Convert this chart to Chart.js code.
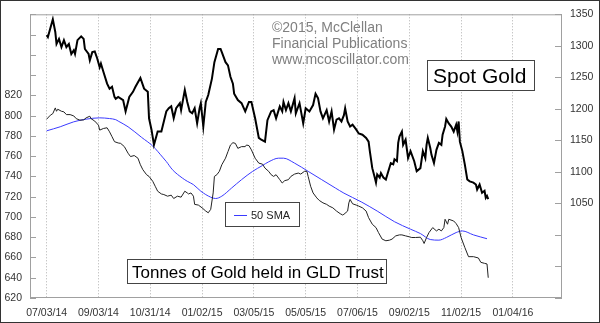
<!DOCTYPE html>
<html>
<head>
<meta charset="utf-8">
<script src="https://cdn.jsdelivr.net/npm/chart.js@4.4.0/dist/chart.umd.min.js"></script>
<style>
body { margin: 0; background: #fff; }
canvas { display: block; }
</style>
</head>
<body>
<canvas id="goldChart" width="600" height="323"></canvas>
<script>
// x = trading days counted from 07/03/14
var dateLabels = ['07/03/14', '09/03/14', '10/31/14', '01/02/15', '03/05/15', '05/05/15', '07/06/15', '09/02/15', '11/02/15', '01/04/16'];
var tickDays = [0, 42, 84, 126, 168, 210, 252, 294, 336, 378];
var tonnesTicks = [620, 640, 660, 680, 700, 720, 740, 760, 780, 800, 820, 840, 860, 880, 900];
var goldTicks = [900, 950, 1000, 1050, 1100, 1150, 1200, 1250, 1300, 1350];

// spot gold, $/oz  [day, value]
var goldPts = [[0,1317],[1,1314],[5,1342],[7,1322],[8,1303],[10,1311],[12,1298],[14,1309],[16,1298],[18,1303],[20,1287],[22,1293],[23,1287],[25,1309],[28,1315],[30,1311],[31,1295],[34,1287],[35,1277],[37,1290],[39,1291],[41,1280],[43,1266],[44,1272],[46,1259],[49,1240],[51,1232],[53,1235],[55,1219],[56,1216],[58,1219],[62,1214],[64,1196],[67,1219],[70,1227],[72,1235],[76,1249],[79,1232],[82,1227],[83,1185],[85,1167],[87,1143],[90,1164],[93,1164],[95,1180],[97,1196],[99,1201],[101,1204],[103,1185],[105,1201],[108,1209],[109,1198],[112,1230],[114,1211],[116,1196],[118,1193],[120,1201],[122,1177],[124,1201],[125,1209],[127,1172],[129,1211],[131,1222],[134,1248],[136,1274],[139,1295],[141,1295],[142,1290],[145,1274],[147,1269],[149,1251],[151,1240],[152,1224],[155,1214],[158,1209],[161,1196],[164,1211],[166,1211],[169,1185],[172,1154],[174,1151],[177,1148],[179,1182],[182,1196],[184,1198],[186,1185],[189,1204],[191,1196],[192,1211],[194,1198],[196,1209],[198,1196],[201,1217],[202,1193],[205,1209],[208,1177],[210,1201],[213,1196],[216,1206],[218,1224],[220,1217],[222,1196],[224,1185],[227,1198],[229,1180],[231,1196],[233,1167],[235,1183],[237,1185],[239,1180],[241,1190],[242,1201],[244,1180],[246,1172],[248,1175],[251,1167],[253,1161],[256,1159],[259,1154],[261,1148],[262,1133],[264,1106],[266,1091],[267,1083],[268,1096],[270,1091],[271,1098],[273,1091],[275,1088],[277,1101],[279,1114],[281,1112],[282,1120],[284,1117],[285,1146],[286,1156],[288,1164],[289,1143],[291,1151],[293,1122],[295,1133],[298,1117],[300,1101],[303,1106],[305,1133],[307,1122],[308,1143],[309,1154],[311,1138],[312,1127],[314,1114],[316,1135],[318,1146],[320,1143],[321,1159],[323,1172],[324,1184],[326,1177],[328,1172],[330,1164],[332,1175],[333,1164],[334,1180],[335,1148],[337,1133],[339,1112],[341,1088],[343,1085],[346,1083],[348,1080],[349,1072],[351,1080],[353,1067],[355,1070],[356,1059],[357,1062],[358,1057]];

// tonnes of gold held in GLD
var tonnesPts = [[0,796.5],[3,800.4],[5,802],[7,807.6],[8,804.3],[9,806.3],[12,804.3],[14,803.7],[16,801],[19,801],[22,799.7],[24,797],[27,795.5],[30,795.8],[32,797.8],[35,799.4],[36,797],[39,794.6],[42,790.6],[43,785.7],[46,787.3],[49,788],[51,784],[53,779.2],[55,774.3],[58,773],[60,772.6],[63,769.4],[66,762.9],[68,759.6],[71,760.6],[74,758],[76,751.5],[78,746.6],[81,741.7],[83,740],[86,735.2],[88,730.3],[90,725.4],[93,722.7],[95,722.1],[98,720.5],[101,721.5],[103,718.2],[106,720.5],[109,719.5],[112,725.4],[114,723.7],[115,722.7],[117,723.7],[119,720.5],[120,712.4],[123,711.7],[126,709],[129,705.8],[131,704.1],[133,707.5],[135,723.7],[136,740],[138,741.7],[140,745],[142,751.5],[145,758],[147,764.5],[149,771],[151,773.3],[153,772.6],[155,767.7],[158,769.4],[161,769.4],[162,771],[164,770.4],[166,766.2],[169,758],[172,753.1],[175,752.1],[177,748.2],[180,745],[182,741.7],[184,740],[186,741.7],[189,736.8],[191,733.5],[193,735.8],[196,736.8],[198,740],[201,742.3],[204,743.3],[206,742.3],[209,745],[211,745],[212,740],[214,730.3],[216,723.7],[219,718.8],[221,716.3],[224,713.9],[227,712.4],[229,710.7],[232,709],[235,705.8],[238,703.2],[240,701.9],[241,702.6],[244,705.8],[245,713.9],[246,717.3],[248,713],[251,711.7],[253,710.7],[256,709],[259,705.8],[261,699.3],[264,692.8],[267,689.5],[269,684.6],[272,678.1],[275,676.5],[278,677.1],[280,678.1],[283,681.3],[286,682.3],[288,682.3],[291,681.3],[294,680.4],[296,679.7],[299,679.7],[303,680],[305,676.5],[306,673.8],[308,679.7],[310,684.6],[313,689.5],[316,686.2],[318,687.9],[320,686.2],[322,689.5],[323,697.7],[325,692.8],[326,697.7],[330,696],[332,693.4],[334,689.5],[336,679.7],[339,669.9],[342,660.8],[346,660.8],[350,659.5],[352,655.2],[355,654.2],[357,653.6],[358,640]];

// 50 day SMA of tonnes
var smaPts = [[0,785],[11,789],[22,793.9],[32,796.5],[43,797.8],[51,797.1],[56,796],[58,794.6],[66,789],[77,778.5],[86,770],[94,759],[97,754.7],[102,746.6],[110,738.4],[114,735.2],[119,731.9],[125,725.4],[133,719.5],[137,718.2],[142,720.5],[150,728.6],[158,736.8],[167,745],[175,750.8],[180,754.4],[188,758],[192,758],[201,753.1],[212,745],[223,736.8],[234,728.6],[241,723.5],[255,714.9],[268,705.8],[282,695.3],[295,687.9],[303,683.6],[311,677.7],[318,677.1],[324,679.7],[332,684.6],[337,686.2],[346,682.3],[357,678.5]];

function toXY(pts) {
    return pts.map(function(p) { return {x: p[0], y: p[1]}; });
}

Chart.defaults.font.family = '"Liberation Sans", Arial, sans-serif';

var extras = {
    id: 'extras',
    afterDraw: function(chart) {
        var c = chart.ctx, a = chart.chartArea;
        c.save();
        // plot frame
        c.strokeStyle = '#a0a0a0';
        c.lineWidth = 1;
        c.strokeRect(a.left + 0.5, a.top + 0.5, a.right - a.left - 1, a.bottom - a.top - 1);
        // inside tick marks on both value axes
        c.beginPath();
        chart.scales.yT.ticks.forEach(function(t) {
            var y = Math.round(chart.scales.yT.getPixelForValue(t.value)) + 0.5;
            c.moveTo(a.left, y); c.lineTo(a.left + 6, y);
        });
        chart.scales.yG.ticks.forEach(function(t) {
            var y = Math.round(chart.scales.yG.getPixelForValue(t.value)) + 0.5;
            c.moveTo(a.right - 7, y); c.lineTo(a.right, y);
        });
        c.stroke();

        // copyright
        c.fillStyle = '#808080';
        c.font = '14px "Liberation Sans", Arial';
        c.textBaseline = 'alphabetic';
        c.fillText('©2015, McClellan', 272, 32);
        c.fillText('Financial Publications', 272, 48);
        c.fillText('www.mcoscillator.com', 272, 64);

        function box(x, y, w, h) {
            c.fillStyle = '#fff';
            c.fillRect(x, y, w, h);
            c.strokeStyle = '#444';
            c.strokeRect(x + 0.5, y + 0.5, w, h);
        }
        box(427, 60, 107, 30);
        c.fillStyle = '#000';
        c.font = '21px "Liberation Sans", Arial';
        c.fillText('Spot Gold', 433, 83);

        box(127, 259, 259, 24);
        c.fillStyle = '#000';
        c.font = '17px "Liberation Sans", Arial';
        c.fillText('Tonnes of Gold held in GLD Trust', 132, 277.5);

        box(225, 202, 74, 24);
        c.strokeStyle = '#3a3aff';
        c.beginPath();
        c.moveTo(234, 215.5); c.lineTo(247, 215.5);
        c.stroke();
        c.fillStyle = '#222';
        c.font = '11px "Liberation Sans", Arial';
        c.fillText('50 SMA', 251, 219);

        // outer frame
        c.strokeStyle = '#333';
        c.strokeRect(0.5, 0.5, 599, 322);
        c.restore();
    }
};

var ctx = document.getElementById('goldChart').getContext('2d');
var goldChart = new Chart(ctx, {
    type: 'line',
    data: {
        datasets: [{
            label: 'Spot Gold',
            data: toXY(goldPts),
            yAxisID: 'yG',
            borderColor: '#000',
            borderWidth: 2,
            pointRadius: 0,
            tension: 0
        }, {
            label: 'GLD tonnes',
            data: toXY(tonnesPts),
            yAxisID: 'yT',
            borderColor: '#222',
            borderWidth: 1,
            pointRadius: 0,
            tension: 0
        }, {
            label: '50 SMA',
            data: toXY(smaPts),
            yAxisID: 'yT',
            borderColor: '#3a3aff',
            borderWidth: 1,
            pointRadius: 0,
            cubicInterpolationMode: 'monotone'
        }]
    },
    options: {
        responsive: false,
        animation: false,
        layout: { padding: { top: 12, left: 0, right: 0, bottom: 0 } },
        plugins: { legend: { display: false }, tooltip: { enabled: false } },
        scales: {
            x: {
                type: 'linear',
                min: -13.5,
                max: 417.8,
                afterBuildTicks: function(s) { s.ticks = tickDays.map(function(v) { return {value: v}; }); },
                afterFit: function(s) { s.height = 25; },
                ticks: {
                    autoSkip: false,
                    maxRotation: 0,
                    padding: 9,
                    color: '#333',
                    font: { size: 10.5 },
                    callback: function(v) { return dateLabels[tickDays.indexOf(v)]; }
                },
                grid: { color: '#b0b0b0', drawTicks: false },
                border: { display: false, dash: [1, 2] }
            },
            yT: {
                position: 'left',
                min: 620,
                max: 900,
                afterBuildTicks: function(s) { s.ticks = tonnesTicks.map(function(v) { return {value: v}; }); },
                afterFit: function(s) { s.width = 30; },
                ticks: {
                    padding: 8,
                    color: '#333',
                    font: { size: 10.5 },
                    callback: function(v) { return v <= 820 ? v : ''; }
                },
                grid: { display: false, drawTicks: false },
                border: { display: false }
            },
            yG: {
                position: 'right',
                min: 900,
                max: 1350,
                afterBuildTicks: function(s) { s.ticks = goldTicks.map(function(v) { return {value: v}; }); },
                afterFit: function(s) { s.width = 38; },
                ticks: {
                    padding: 8,
                    color: '#333',
                    font: { size: 10.5 },
                    callback: function(v) { return v >= 1050 ? v : ''; }
                },
                grid: { display: false, drawTicks: false },
                border: { display: false }
            }
        }
    },
    plugins: [extras]
});
</script>
</body>
</html>
